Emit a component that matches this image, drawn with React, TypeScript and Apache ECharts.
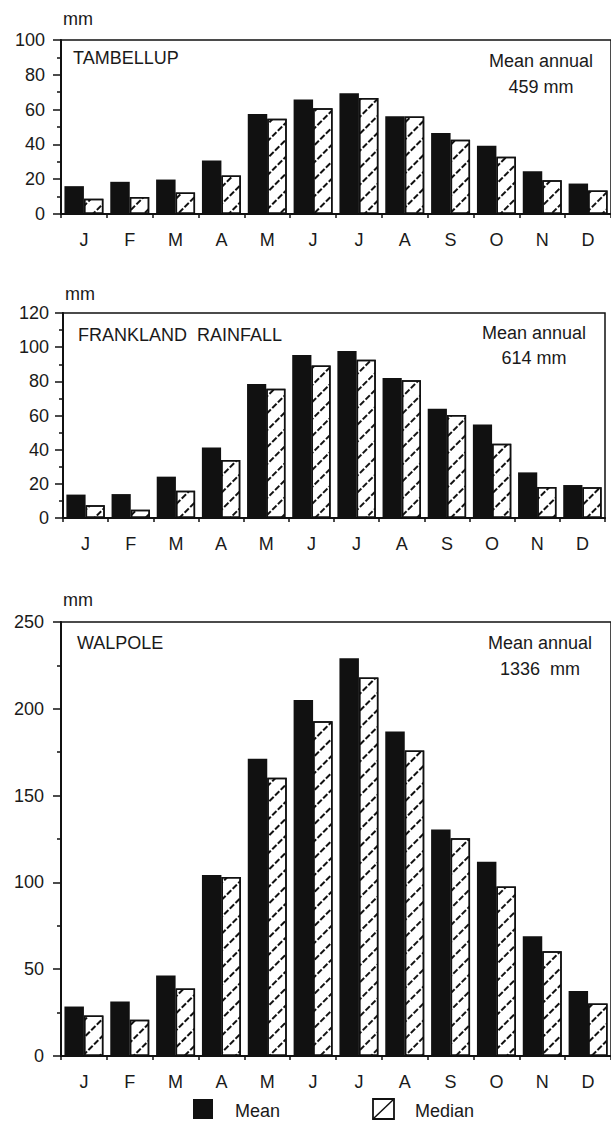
import React, { useEffect, useRef } from 'react';
import * as echarts from 'echarts';

const months = ['J', 'F', 'M', 'A', 'M', 'J', 'J', 'A', 'S', 'O', 'N', 'D'];

const tambellupMean = [16.0, 18.5, 19.8, 30.8, 57.5, 65.8, 69.4, 56.2, 46.5, 39.2, 24.6, 17.5];
const tambellupMedian = [8.7, 9.8, 12.3, 22.1, 54.8, 60.8, 66.7, 56.0, 42.7, 32.9, 19.4, 13.5];

const franklandMean = [13.7, 14.0, 24.2, 41.2, 78.4, 95.4, 97.8, 82.0, 64.0, 54.8, 26.7, 19.3];
const franklandMedian = [7.4, 4.9, 16.0, 34.0, 75.7, 89.2, 92.7, 80.6, 60.3, 43.5, 18.1, 18.0];

const walpoleMean = [28.5, 31.4, 46.4, 104.2, 171.2, 205.0, 229.1, 186.9, 130.5, 111.9, 69.0, 37.5];
const walpoleMedian = [23.4, 20.9, 38.9, 103.1, 160.3, 192.8, 218.0, 176.0, 125.5, 97.7, 60.3, 30.3];

const stationNames = ['TAMBELLUP', 'FRANKLAND  RAINFALL', 'WALPOLE'];
const annualTotals = ['459 mm', '614 mm', '1336  mm'];
const yMaxes = [100, 120, 250];
const yIntervals = [20, 20, 50];

const FONT = '"Liberation Sans", Arial, Helvetica, sans-serif';
const INK = '#111';
const TEXT = '#1a1a1a';

const panels = [
  { left: 61, top: 40, width: 553, height: 174, labelMargin: 16, mean: tambellupMean, median: tambellupMedian,
    nameX: 73, nameY: 58, annX: 541, annY1: 61, annY2: 87, mmY: 19 },
  { left: 63, top: 313, width: 542, height: 205, labelMargin: 14, mean: franklandMean, median: franklandMedian,
    nameX: 78, nameY: 335, annX: 534, annY1: 333, annY2: 358, mmY: 294 },
  { left: 61, top: 622, width: 551, height: 434, labelMargin: 17, mean: walpoleMean, median: walpoleMedian,
    nameX: 77, nameY: 643, annX: 540, annY1: 643, annY2: 669, mmY: 600 },
];

export default function App() {
  const ref = useRef<HTMLDivElement>(null);

  useEffect(() => {
    if (!ref.current) return;
    const chart = echarts.init(ref.current, undefined, { renderer: 'svg' });

    const grid: any[] = [];
    const xAxis: any[] = [];
    const yAxis: any[] = [];
    const series: any[] = [];
    const graphic: any[] = [];

    panels.forEach((p, i) => {
      grid.push({
        left: p.left, top: p.top, width: p.width, height: p.height,
        show: true, borderColor: INK, borderWidth: 1.5, backgroundColor: 'transparent',
      });
      xAxis.push({
        type: 'category', gridIndex: i, data: months,
        axisLine: { show: true, lineStyle: { color: INK, width: 2 } },
        axisTick: { show: true, length: 4, interval: 0, lineStyle: { color: INK, width: 1.5 } },
        axisLabel: { interval: 0, margin: 17, fontSize: 18, color: TEXT, fontFamily: FONT },
      });
      yAxis.push({
        type: 'value', gridIndex: i, min: 0, max: yMaxes[i], interval: yIntervals[i],
        axisLine: { show: true, lineStyle: { color: INK, width: 2 } },
        axisTick: { show: true, length: 8, lineStyle: { color: INK, width: 1.5 } },
        minorTick: { show: true, splitNumber: 2, length: 4, lineStyle: { color: INK, width: 1.5 } },
        splitLine: { show: false },
        minorSplitLine: { show: false },
        axisLabel: { margin: p.labelMargin, fontSize: 18, color: TEXT, fontFamily: FONT },
      });
      series.push({
        type: 'bar', name: 'Mean', xAxisIndex: i, yAxisIndex: i, data: p.mean,
        barGap: '0%', barCategoryGap: '15%',
        itemStyle: { color: INK },
      });
      series.push({
        type: 'bar', name: 'Median', xAxisIndex: i, yAxisIndex: i, data: p.median,
        barGap: '0%', barCategoryGap: '15%',
        itemStyle: {
          color: '#fff', borderColor: INK, borderWidth: 1.5,
          decal: {
            symbol: 'rect', symbolSize: 1, color: INK, backgroundColor: null,
            dashArrayX: [6, 2], dashArrayY: [2, 10], rotation: -Math.PI / 4,
          },
        },
      });
      graphic.push({
        type: 'text', x: p.left + 2, y: p.mmY,
        style: { text: 'mm', fontSize: 18, fontFamily: FONT, fill: TEXT, align: 'left', verticalAlign: 'middle' },
      });
      graphic.push({
        type: 'text', x: p.nameX, y: p.nameY,
        style: { text: stationNames[i], fontSize: 18, fontFamily: FONT, fill: TEXT, align: 'left', verticalAlign: 'middle' },
      });
      graphic.push({
        type: 'text', x: p.annX, y: p.annY1,
        style: { text: 'Mean annual', fontSize: 18, fontFamily: FONT, fill: TEXT, align: 'center', verticalAlign: 'middle' },
      });
      graphic.push({
        type: 'text', x: p.annX, y: p.annY2,
        style: { text: annualTotals[i], fontSize: 18, fontFamily: FONT, fill: TEXT, align: 'center', verticalAlign: 'middle' },
      });
    });

    // legend
    graphic.push({ type: 'rect', shape: { x: 193, y: 1099, width: 20, height: 20 }, style: { fill: INK } });
    graphic.push({
      type: 'text', x: 235, y: 1111,
      style: { text: 'Mean', fontSize: 18, fontFamily: FONT, fill: TEXT, align: 'left', verticalAlign: 'middle' },
    });
    graphic.push({ type: 'rect', shape: { x: 373, y: 1099, width: 21, height: 20 }, style: { fill: '#fff', stroke: INK, lineWidth: 1.8 } });
    graphic.push({ type: 'line', shape: { x1: 373, y1: 1119, x2: 394, y2: 1099 }, style: { stroke: INK, lineWidth: 1.5 } });
    graphic.push({
      type: 'text', x: 415, y: 1111,
      style: { text: 'Median', fontSize: 18, fontFamily: FONT, fill: TEXT, align: 'left', verticalAlign: 'middle' },
    });

    chart.setOption({
      animation: false,
      backgroundColor: '#fff',
      grid, xAxis, yAxis, series, graphic,
    });

    return () => chart.dispose();
  }, []);

  return (
    <div
      ref={ref}
      style={{ position: 'absolute', left: 0, top: 0, width: 611, height: 1123, overflow: 'hidden' }}
    />
  );
}
